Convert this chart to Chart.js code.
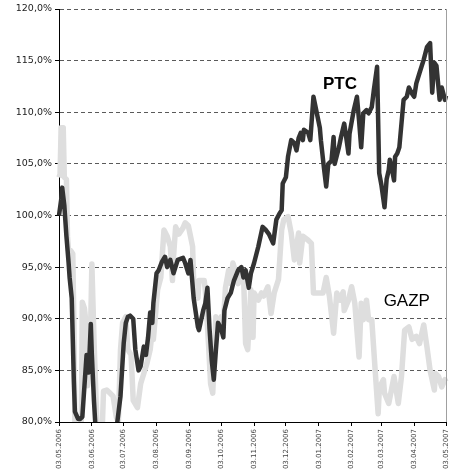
<!DOCTYPE html>
<html>
<head>
<meta charset="utf-8">
<script src="https://cdn.jsdelivr.net/npm/chart.js@4"></script>
<style>
  html, body { margin: 0; padding: 0; background: #fff; }
  #wrap { width: 453px; height: 471px; }
</style>
</head>
<body>
<div id="wrap"><canvas id="myChart"></canvas></div>
<script>
// days counted from 03.05.2006
var tickDays = [0, 31, 61, 92, 123, 153, 184, 214, 245, 276, 304, 335, 365];
var tickLabels = ['03.05.2006', '03.06.2006', '03.07.2006', '03.08.2006', '03.09.2006', '03.10.2006',
  '03.11.2006', '03.12.2006', '03.01.2007', '03.02.2007', '03.03.2007', '03.04.2007', '03.05.2007'];

var ptcDays = [0, 2, 3, 5, 7, 9, 10, 12, 13, 14, 15, 18, 20, 22, 24, 26, 27, 28, 30, 31, 33, 35, 39, 44, 48, 52, 55,
  58, 61, 63, 65, 67, 70, 72, 75, 77, 80, 82, 84, 86, 88, 89, 92, 94, 97, 100, 102, 105, 108, 112, 117, 119, 122,
  124, 127, 131, 132, 136, 138, 140, 142, 144, 146, 148, 150, 153, 155, 156, 159, 162, 165, 169, 172, 174, 176, 179,
  181, 184, 188, 192, 195, 198, 202, 205, 208, 210, 211, 214, 216, 219, 222, 224, 226, 228, 230, 231, 235, 237, 240,
  243, 246, 247, 250, 252, 254, 257, 259, 260, 264, 266, 269, 271, 273, 274, 278, 281, 283, 285, 287, 290, 292, 295,
  297, 300, 302, 304, 307, 309, 311, 312, 314, 316, 317, 319, 321, 325, 328, 330, 333, 335, 337, 340, 344, 347, 350,
  352, 354, 356, 359, 361, 364, 365];
var ptcValues = [100.0, 101.5, 102.7, 101.0, 98.0, 95.5, 94.0, 92.0, 88.0, 84.0, 81.0, 80.3, 80.3, 80.5, 83.5, 86.5,
  85.0, 84.8, 89.5, 86.5, 82.0, 78.5, 78.0, 78.0, 78.0, 78.5, 80.0,
  82.5, 87.6, 89.6, 90.2, 90.3, 90.0, 87.0, 85.0, 85.4, 87.3, 86.5, 88.2, 90.6, 89.6, 91.5, 94.4, 94.7, 95.5, 96.0,
  95.0, 95.7, 94.4, 95.7, 95.9, 95.4, 94.4,
  95.7, 92.0, 89.2, 88.9, 90.8, 91.5, 93.0, 89.0, 86.0, 84.1, 87.0, 89.6, 89.0, 88.2, 90.8, 92.0, 92.5, 93.7, 94.7,
  95.0, 94.0, 94.7, 93.0,
  94.4, 95.4, 97.0, 98.9, 98.6, 98.2, 97.3, 99.6, 100.2, 100.5, 103.1, 103.7, 105.7, 107.3, 107.0, 106.3, 107.5,
  108.0, 107.3, 108.3, 108.0, 107.3, 111.5,
  110.0, 108.5, 107.3, 104.5, 102.8, 105.0, 105.3, 107.6, 105.0, 106.6, 107.6, 108.9, 107.5, 106.0, 107.9, 110.2,
  111.5, 109.2, 106.6, 109.9, 110.2, 109.9, 110.5,
  112.2, 114.4, 104.1, 103.0, 100.8, 103.5, 104.4, 105.4, 104.5, 103.4, 105.7, 106.0, 106.6, 111.2, 111.5, 112.4,
  111.8, 111.5, 112.8, 113.8, 115.1, 116.3, 116.7,
  111.9, 114.8, 114.5, 111.2, 112.4, 111.2, 111.6];

var gazpDays = [0, 1, 2, 4, 5, 7, 8, 9, 11, 13, 14, 15, 17, 19, 21, 22, 24, 25, 26, 27, 29, 30, 31, 33, 35, 36, 39,
  41, 42, 45, 48, 51, 54, 56, 58, 60, 63, 65, 68, 70, 74, 77, 80, 83, 86, 88, 89, 93, 96, 99, 102, 105, 107, 108,
  110, 113, 117, 119, 122, 124, 126, 127, 131, 132, 137, 138, 141, 143, 145, 148, 150, 153, 155, 157, 160, 162, 164,
  167, 169, 172, 174, 176, 178, 181, 183, 184, 188, 191, 193, 197, 200, 203, 207, 210, 212, 216, 219, 222, 226, 227,
  230, 235, 238, 240, 245, 249, 252, 255, 259, 262, 265, 268, 269, 273, 276, 279, 283, 285, 287, 290, 292, 295, 298,
  301, 302, 304, 306, 307, 311, 316, 320, 323, 326, 330, 333, 337, 340, 344, 347, 350, 354, 355, 358, 361, 364, 365];
var gazpValues = [103.7, 104.0, 108.5, 108.5, 103.7, 103.5, 98.0, 96.6, 96.6, 96.3, 90.0, 80.0, 77.0, 77.0, 80.0,
  91.6, 91.0, 90.0, 85.0, 83.5, 86.0, 90.0, 95.3, 88.0, 82.0, 79.0, 78.0,
  80.0, 83.0, 83.1, 82.8, 82.5, 80.5, 80.0, 87.0, 89.6, 90.2, 87.0, 86.5, 82.1, 81.4, 83.7, 84.7, 85.7, 87.0, 88.9,
  88.0, 92.8, 94.0, 98.6, 98.0, 97.0, 93.7, 96.0,
  98.9, 98.2, 98.8, 99.3, 99.0, 98.0, 97.0, 93.7, 92.0, 93.7, 93.7, 92.7, 87.6, 83.7, 82.8, 90.2, 88.9, 90.2, 89.6,
  93.0, 94.7, 93.4, 95.4,
  94.4, 93.4, 94.7, 94.4, 87.6, 87.0, 92.8, 88.2, 92.5, 91.8, 92.5, 92.2, 93.1, 90.5, 92.5, 93.8, 98.6, 99.6, 99.9,
  98.3, 95.7, 98.3, 95.4,
  98.0, 97.6, 97.3, 92.5, 92.5, 92.5, 94.0, 92.2, 88.6, 92.5, 91.8, 92.6, 90.8, 91.8, 93.1, 91.5, 86.3, 91.5, 89.9,
  91.8, 89.9, 89.9, 85.3,
  80.8, 83.0, 83.7, 84.1, 82.8, 81.8, 84.4, 81.8, 84.4, 88.9, 89.2, 88.0, 88.3, 87.6, 89.4, 87.3, 85.0, 83.1, 84.7,
  84.4, 83.4, 84.1, 83.9];

var seriesLabels = [
  { text: 'PTC', day: 265, value: 112.3, font: 'bold 17px "Liberation Sans", Arial, sans-serif' },
  { text: 'GAZP', day: 328, value: 91.2, font: '17px "Liberation Sans", Arial, sans-serif' }
];

function toPoints(days, values) {
  return days.map(function(d, i) { return { x: d, y: values[i] }; });
}

// names on the chart + grey frame line on the right
var extras = {
  id: 'extras',
  afterDatasetsDraw: function(chart) {
    var ctx = chart.ctx, a = chart.chartArea;
    var xs = chart.scales.x, ys = chart.scales.y;
    ctx.save();
    ctx.strokeStyle = '#a0a0a0';
    ctx.lineWidth = 1;
    ctx.beginPath();
    ctx.moveTo(a.right + 0.5, a.top);
    ctx.lineTo(a.right + 0.5, a.bottom);
    ctx.stroke();
    ctx.fillStyle = '#000';
    ctx.textAlign = 'center';
    ctx.textBaseline = 'alphabetic';
    seriesLabels.forEach(function(l) {
      ctx.font = l.font;
      ctx.fillText(l.text, xs.getPixelForValue(l.day), ys.getPixelForValue(l.value));
    });
    ctx.restore();
  }
};

var ctx = document.getElementById('myChart').getContext('2d');
var chart = new Chart(ctx, {
  type: 'line',
  data: {
    datasets: [{
      label: 'PTC',
      data: toPoints(ptcDays, ptcValues),
      borderColor: '#333333',
      borderWidth: 4.5,
      pointRadius: 0,
      borderJoinStyle: 'round',
      clip: { left: 5, right: 5, top: 5, bottom: 0 }
    }, {
      label: 'GAZP',
      data: toPoints(gazpDays, gazpValues),
      borderColor: '#dedede',
      borderWidth: 5.5,
      pointRadius: 0,
      borderJoinStyle: 'round',
      clip: { left: 5, right: 5, top: 5, bottom: 0 }
    }]
  },
  options: {
    responsive: true,
    maintainAspectRatio: false,
    animation: false,
    layout: { padding: { top: 9, right: 7, left: 0, bottom: 0 } },
    plugins: { legend: { display: false }, tooltip: { enabled: false } },
    scales: {
      x: {
        type: 'linear',
        min: 0,
        max: 365,
        afterBuildTicks: function(scale) {
          scale.ticks = tickDays.map(function(d) { return { value: d }; });
        },
        afterFit: function(scale) {
          scale.height = 49;
          scale.paddingLeft = 0;
          scale.paddingRight = 0;
        },
        ticks: {
          autoSkip: false,
          minRotation: 90,
          maxRotation: 90,
          padding: 3,
          color: '#444',
          font: { family: '"DejaVu Sans", Verdana, sans-serif', size: 7 },
          callback: function(v) { return tickLabels[tickDays.indexOf(v)]; }
        },
        grid: { drawOnChartArea: false, tickLength: 4, tickColor: '#000' },
        border: { color: '#000', width: 1 }
      },
      y: {
        min: 80,
        max: 120,
        afterFit: function(scale) { scale.width = 59; },
        ticks: {
          stepSize: 5,
          padding: 3,
          color: '#222',
          font: { family: '"DejaVu Sans", Verdana, sans-serif', size: 9.5 },
          callback: function(v) { return v.toFixed(1).replace('.', ',') + '%'; }
        },
        grid: { color: '#5a5a5a', lineWidth: 1, tickLength: 4, tickColor: '#000', tickBorderDash: [] },
        border: { color: '#000', width: 1, dash: [4, 3] }
      }
    }
  },
  plugins: [extras]
});
</script>
</body>
</html>
